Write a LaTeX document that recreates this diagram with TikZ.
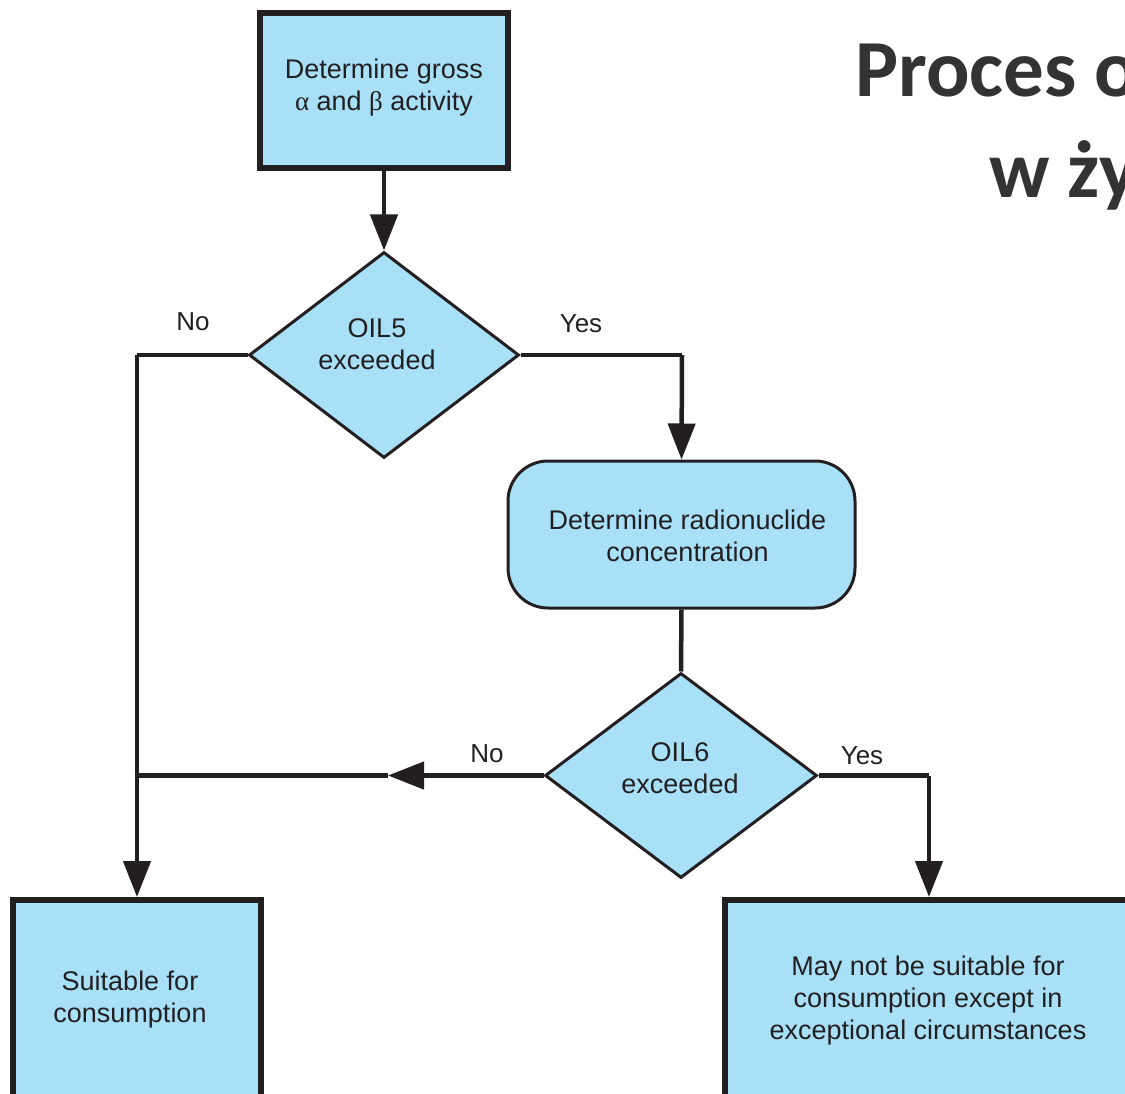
\documentclass[tikz,border=0pt]{standalone}
\usepackage{fontspec}
\setmainfont{Liberation Sans}
\newfontfamily\titlefont{Carlito}
\newfontfamily\greekfont{Liberation Serif}
\usetikzlibrary{shapes.geometric,arrows.meta}
\definecolor{boxfill}{RGB}{168,224,248}
\definecolor{ink}{RGB}{35,31,32}
\definecolor{titlegray}{RGB}{51,51,51}
\begin{document}
\begin{tikzpicture}[x=1pt,y=-1pt,
  txt/.style={font=\fontsize{27}{32}\selectfont, text=ink, align=center},
  sqbox/.style={txt, draw=ink, fill=boxfill, line width=6pt, inner sep=0pt, rectangle},
  rbox/.style={txt, draw=ink, fill=boxfill, line width=3pt, inner sep=0pt, rectangle, rounded corners=40pt},
  dia/.style={draw=ink, fill=boxfill, line width=3pt, inner sep=0pt, diamond},
  conn/.style={draw=ink, line width=4.5pt},
  arr/.style={conn, -{Triangle[length=36pt,width=27pt]}},
  lbl/.style={font=\fontsize{26}{30}\selectfont, text=ink},
  title/.style={font=\titlefont\bfseries\fontsize{81}{90}\selectfont, text=titlegray, anchor=base west, inner sep=0pt}
]
\useasboundingbox (0,0) rectangle (1125,1094);
\clip (0,0) rectangle (1125,1094);
\fill[white] (0,0) rectangle (1125,1094);

% title (cut off by the frame, as in the source)
\node[title] (t1) at (855,97) {Proces o};
\node[title] (t2) at (989,198) {w ży};

% nodes
\node[sqbox, minimum width=248pt, minimum height=155pt] (start) at (384,90.5)
  {\raisebox{-4pt}[0pt][0pt]{\begin{tabular}{@{}c@{}}Determine gross\\{\greekfont α} and {\greekfont β} activity\end{tabular}}};
\node[dia, minimum width=270pt, minimum height=206pt] (oil5) at (384,355) {};
\node[txt] (oil5t) at (377,344) {OIL5\\exceeded};
\node[rbox, minimum width=347pt, minimum height=147pt] (radio) at (681.5,534.5)
  {\raisebox{-10.5pt}[0pt][0pt]{\begin{tabular}{@{}c@{}}Determine radionuclide\\concentration\end{tabular}}\hspace*{-12pt}};
\node[dia, minimum width=272pt, minimum height=205pt] (oil6) at (681,775.5) {};
\node[txt] (oil6t) at (680,768.5) {OIL6\\exceeded};
\node[sqbox, minimum width=248pt, minimum height=200pt] (ok) at (137,1000)
  {\raisebox{-6.5pt}[0pt][0pt]{\begin{tabular}{@{}c@{}}Suitable for\\consumption\end{tabular}}\hspace*{14pt}};
\node[sqbox, minimum width=406pt, minimum height=202pt] (notok) at (928,1001)
  {May not be suitable for\\consumption except in\\exceptional circumstances};

% helper coordinates
\coordinate (c5l) at (137,355);
\coordinate (c5r) at (682,355);
\coordinate (j6) at (137,775.5);
\coordinate (m6) at (388,775.5);
\coordinate (c6r) at (929,775.5);

% connectors
\draw[arr] (start.south) -- (oil5.north);
\draw[conn] (oil5.west) -- (c5l);
\draw[arr] (c5l) -- (ok.north);
\draw[conn] (oil5.east) -- (c5r);
\draw[arr] (c5r) -- (radio.north);
\draw[conn] (radio.south) -- (oil6.north);
\draw[arr] (oil6.west) -- (m6);
\draw[conn] (m6) -- (j6);
\draw[conn] (oil6.east) -- (c6r);
\draw[arr] (c6r) -- (notok.north -| c6r);

% labels
\node[lbl] (n1) at (193,322) {No};
\node[lbl] (y1) at (581,324) {Yes};
\node[lbl] (n2) at (487,754) {No};
\node[lbl] (y2) at (862,756) {Yes};
\end{tikzpicture}
\end{document}
